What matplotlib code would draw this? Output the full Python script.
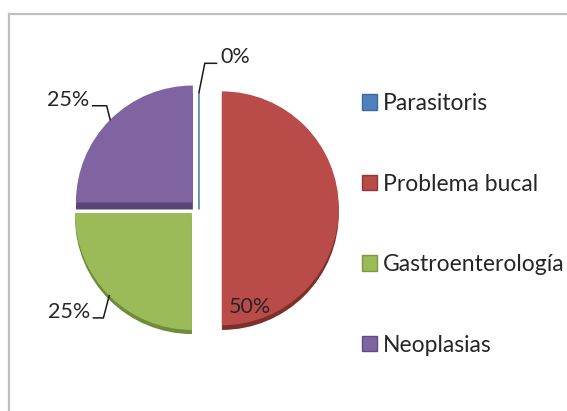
import matplotlib

matplotlib.use("Agg")
import matplotlib.pyplot as plt
from matplotlib.lines import Line2D
from matplotlib.patches import Patch
import numpy as np

plt.rcParams["font.family"] = ["Lato", "DejaVu Sans"]

categories = ["Parasitoris", "Problema bucal", "Gastroenterología", "Neoplasias"]
values = [0, 50, 25, 25]
pct_labels = ["0%", "50%", "25%", "25%"]

colors = ["#4F81BD", "#B94B49", "#9BBB59", "#7F64A1"]
side_colors = ["#3A6290", "#7E2F2D", "#6F8B3B", "#5A4676"]
edge_colors = ["#3C6A9E", "#8E3936", "#7A9A40", "#604A80"]
# per-slice offset of each wedge from the pie centre (data units)
offsets = [(-0.068, 0.0), (0.128, 0.01), (-0.128, -0.03), (-0.12, 0.06)]
depths = [0.0, 0.04, 0.035, 0.06]
text_color = "#262626"

fig = plt.figure(figsize=(5.67, 4.11), dpi=100)
ax = fig.add_axes([0.0349, 0.0348, 0.660, 0.911])
ax.set_facecolor("none")

# darker copy underneath gives the slices a bit of thickness
side, _ = ax.pie(values, colors=side_colors, startangle=90, counterclock=False,
                 wedgeprops={"linewidth": 0})
top, _ = ax.pie(values, colors=colors, startangle=90, counterclock=False,
                wedgeprops={"linewidth": 0})
for i, (w_side, w_top) in enumerate(zip(side, top)):
    dx, dy = offsets[i]
    w_side.set_center((dx, dy - depths[i]))
    w_top.set_center((dx, dy))
    if values[i] == 0:
        w_top.set_edgecolor(colors[i])
        w_top.set_linewidth(1.2)
        w_side.set_visible(False)

ax.set_xlim(-1.6, 1.6)
ax.set_ylim(-1.6, 1.6)
ax.set_aspect("equal")
ax.axis("off")

# labels with elbow leader lines, placed from each slice's mid angle
leader = {
    0: ((0.05, 0.25), (0.1, 0.0), "left"),
    2: ((-0.05, -0.19), (-0.085, 0.0), "right"),
    3: ((-0.03, 0.12), (-0.12, 0.0), "right"),
}
for i, w in enumerate(top):
    mid = np.deg2rad((w.theta1 + w.theta2) / 2)
    cx, cy = w.center
    px, py = cx + np.cos(mid), cy + np.sin(mid)
    if i in leader:
        (ex, ey), (hx, hy), ha = leader[i]
        x1, y1 = px + ex, py + ey
        x2, y2 = x1 + hx, y1 + hy
        ax.plot([px, x1, x2], [py, y1, y2], color="#1a1a1a", lw=1.1, solid_joinstyle="miter")
        tx = x2 + (0.03 if ha == "left" else -0.03)
        ax.text(tx, y2 + 0.05, pct_labels[i], ha=ha, va="center", fontsize=15.5, color=text_color)
    else:
        ax.text(cx + 0.06, cy - 0.84, pct_labels[i], ha="left", va="center", fontsize=15.5, color=text_color)

handles = [Patch(facecolor=c, edgecolor=e, linewidth=1) for c, e in zip(colors, edge_colors)]
fig.legend(handles, categories, loc="upper left", bbox_to_anchor=(362 / 567, 1 - 93 / 411),
           frameon=False, fontsize=16.5, handlelength=0.65, handleheight=0.65,
           handletextpad=0.25, labelspacing=2.6, borderpad=0, borderaxespad=0,
           labelcolor=text_color)

# chart area border (runs off the right and bottom edges)
fx, fy = 9 / 567, 1 - 14 / 411
fig.add_artist(Line2D([fx, fx], [0, fy], color="#BFBFBF", lw=1.6))
fig.add_artist(Line2D([fx, 1], [fy, fy], color="#BFBFBF", lw=1.6))

fig.savefig("out.png", dpi=100)
